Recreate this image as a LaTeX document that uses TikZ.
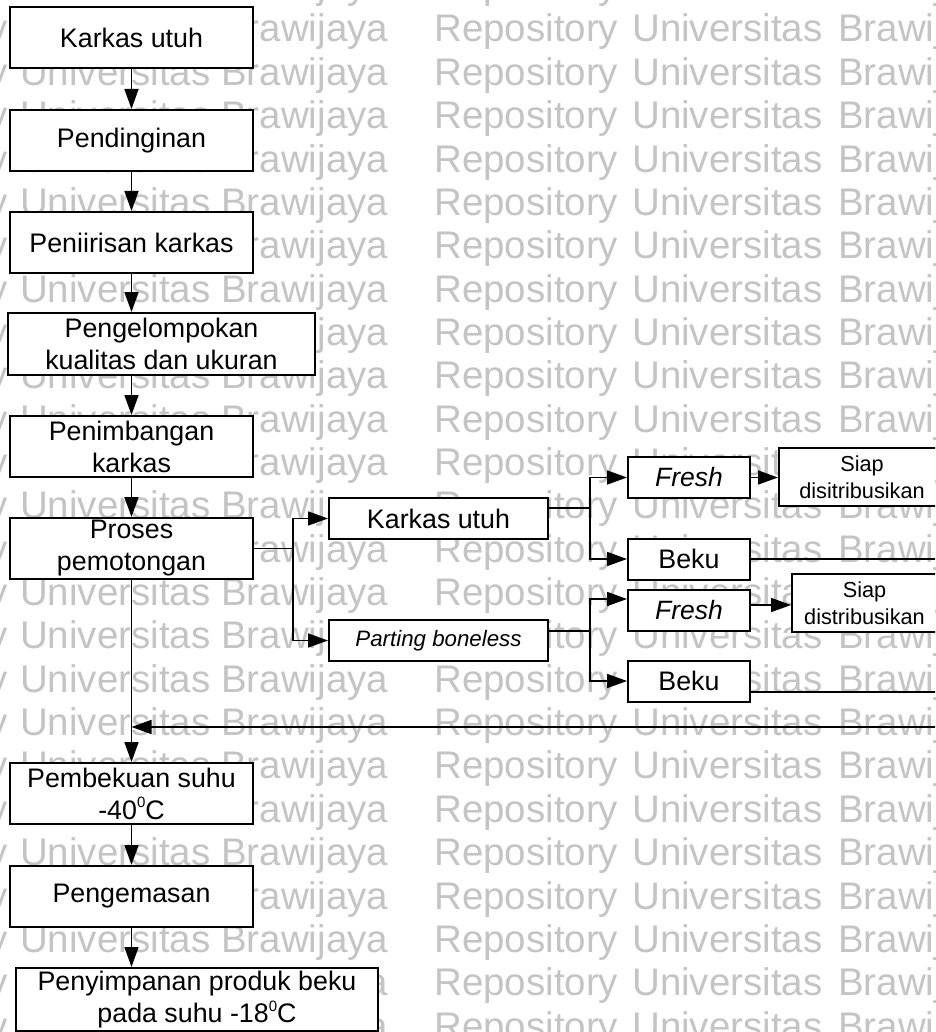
\documentclass[tikz,border=0pt]{standalone}
\usepackage{fontspec}
\setmainfont{Liberation Sans}
\usetikzlibrary{arrows.meta}

% small raised zero used for degree values
\newcommand\degzero{\raisebox{0.42em}{\fontsize{15}{15}\selectfont 0}}

\begin{document}
\begin{tikzpicture}[x=1pt,y=-1pt,
  box/.style={draw, line width=2pt, fill=white, inner sep=0pt, align=center,
              font=\fontsize{26.8}{32}\selectfont},
  smallbox/.style={box, font=\fontsize{21.7}{26.5}\selectfont},
  flow/.style={line width=1.7pt, -{Triangle[length=20pt,width=14pt]}},
  link/.style={line width=1.7pt},
  wmtext/.style={text=black!23, font=\fontsize{38.5}{38.5}\selectfont,
                 anchor=base west, inner sep=0pt}
]
\useasboundingbox (0,0) rectangle (935,1032);
\clip (0,0) rectangle (935,1032);
\fill[white] (0,0) rectangle (935,1032);

% repository watermark rows
\foreach \k in {-1,...,23}{
  \node[wmtext, anchor=base east] (wmA\k) at (8,{42+43.35*\k}) {Repository};
  \node[wmtext] (wmB\k) at (20,{42+43.35*\k}) {Universitas};
  \node[wmtext] (wmC\k) at (221,{42+43.35*\k}) {Brawijaya};
  \node[wmtext] (wmD\k) at (434,{42+43.35*\k}) {Repository};
  \node[wmtext] (wmE\k) at (632,{42+43.35*\k}) {Universitas};
  \node[wmtext] (wmF\k) at (838,{42+43.35*\k}) {Brawijaya};
}

% main process column
\node[box, minimum width=243pt, minimum height=61pt] (L1) at (131.5,37.5) {Karkas utuh};
\node[box, minimum width=243pt, minimum height=61pt] (L2) at (131.5,140.5) {Pendinginan};
\node[box, minimum width=243pt, minimum height=61pt] (L3) at (131.5,242.5) {Peniirisan karkas};
\node[box, minimum width=307pt, minimum height=62pt] (L4) at (161.5,344) {Pengelompokan\\kualitas dan ukuran};
\node[box, minimum width=243pt, minimum height=61pt] (L5) at (131.5,446.5) {Penimbangan\\karkas};
\node[box, minimum width=243pt, minimum height=61pt] (L6) at (131.5,548.5) {Proses\\pemotongan};
\node[box, minimum width=243pt, minimum height=61pt] (L7) at (131.5,793.5) {Pembekuan suhu\\-40\degzero C};
\node[box, minimum width=243pt, minimum height=61pt] (L8) at (131.5,896.5) {Pengemasan};
\node[box, minimum width=362pt, minimum height=63pt] (L9) at (197,999.5) {Penyimpanan produk beku\\pada suhu -18\degzero C};

% cutting products
\node[box, minimum width=219pt, minimum height=41pt] (M1) at (438.5,518.5) {Karkas utuh};
\node[box, minimum width=219pt, minimum height=41pt, font=\fontsize{22.3}{26}\selectfont\itshape] (M2) at (438.5,640.5) {Parting boneless};

\node[box, minimum width=122pt, minimum height=41pt, font=\fontsize{26.5}{32}\selectfont\itshape] (F1) at (689,477.5) {Fresh};
\node[box, minimum width=122pt, minimum height=41pt] (B1) at (689,559) {Beku};
\node[box, minimum width=122pt, minimum height=41pt, font=\fontsize{26.5}{32}\selectfont\itshape] (F2) at (689,610) {Fresh};
\node[box, minimum width=122pt, minimum height=41pt] (B2) at (689,681) {Beku};

\node[smallbox, minimum width=166pt, minimum height=58pt] (S1) at (862,477) {Siap\\disitribusikan};
\node[smallbox, minimum width=145pt, minimum height=58pt] (S2) at (864.5,603) {Siap\\distribusikan};

% main flow
\draw[flow] (L1.south) -- (L2.north);
\draw[flow] (L2.south) -- (L3.north);
\draw[flow] (L3.south) -- (L4.north -| L3.south);
\draw[flow] (L4.south -| L5.north) -- (L5.north);
\draw[flow] (L5.south) -- (L6.north);
\draw[flow] (L6.south) -- (L7.north);
\draw[flow] (L7.south) -- (L8.north);
\draw[flow] (L8.south) -- (L9.north -| L8.south);

% branching after cutting
\coordinate (pj) at (293,548.5);
\draw[flow] (L6.east) -- (pj) |- (M1.west);
\draw[flow] (pj) |- (M2.west);

\coordinate (mj1) at (590,508);
\draw[link] ([yshift=10.5pt]M1.east) -- (mj1);
\draw[flow] (mj1) |- (F1.west);
\draw[flow] (mj1) |- (B1.west);
\draw[flow] (F1.east) -- (F1.east -| S1.west);

\coordinate (mj2) at (590,631);
\draw[link] ([yshift=9.5pt]M2.east) -- (mj2);
\draw[flow] (mj2) |- ([yshift=11pt]F2.west);
\draw[flow] (mj2) |- (B2.west);
\draw[flow] ([yshift=5pt]F2.east) -- ([yshift=5pt]F2.east -| S2.west);

% frozen products routed back to freezing
\coordinate (b1out) at (945,559);
\coordinate (b2out) at (945,692);
\coordinate (ret) at (945,727);
\draw[link] (B1.east) -- (b1out);
\draw[link] ([yshift=-11pt]B2.east) -- (b2out);
\draw[flow] (ret) -- (ret -| L7.north);
\end{tikzpicture}
\end{document}
